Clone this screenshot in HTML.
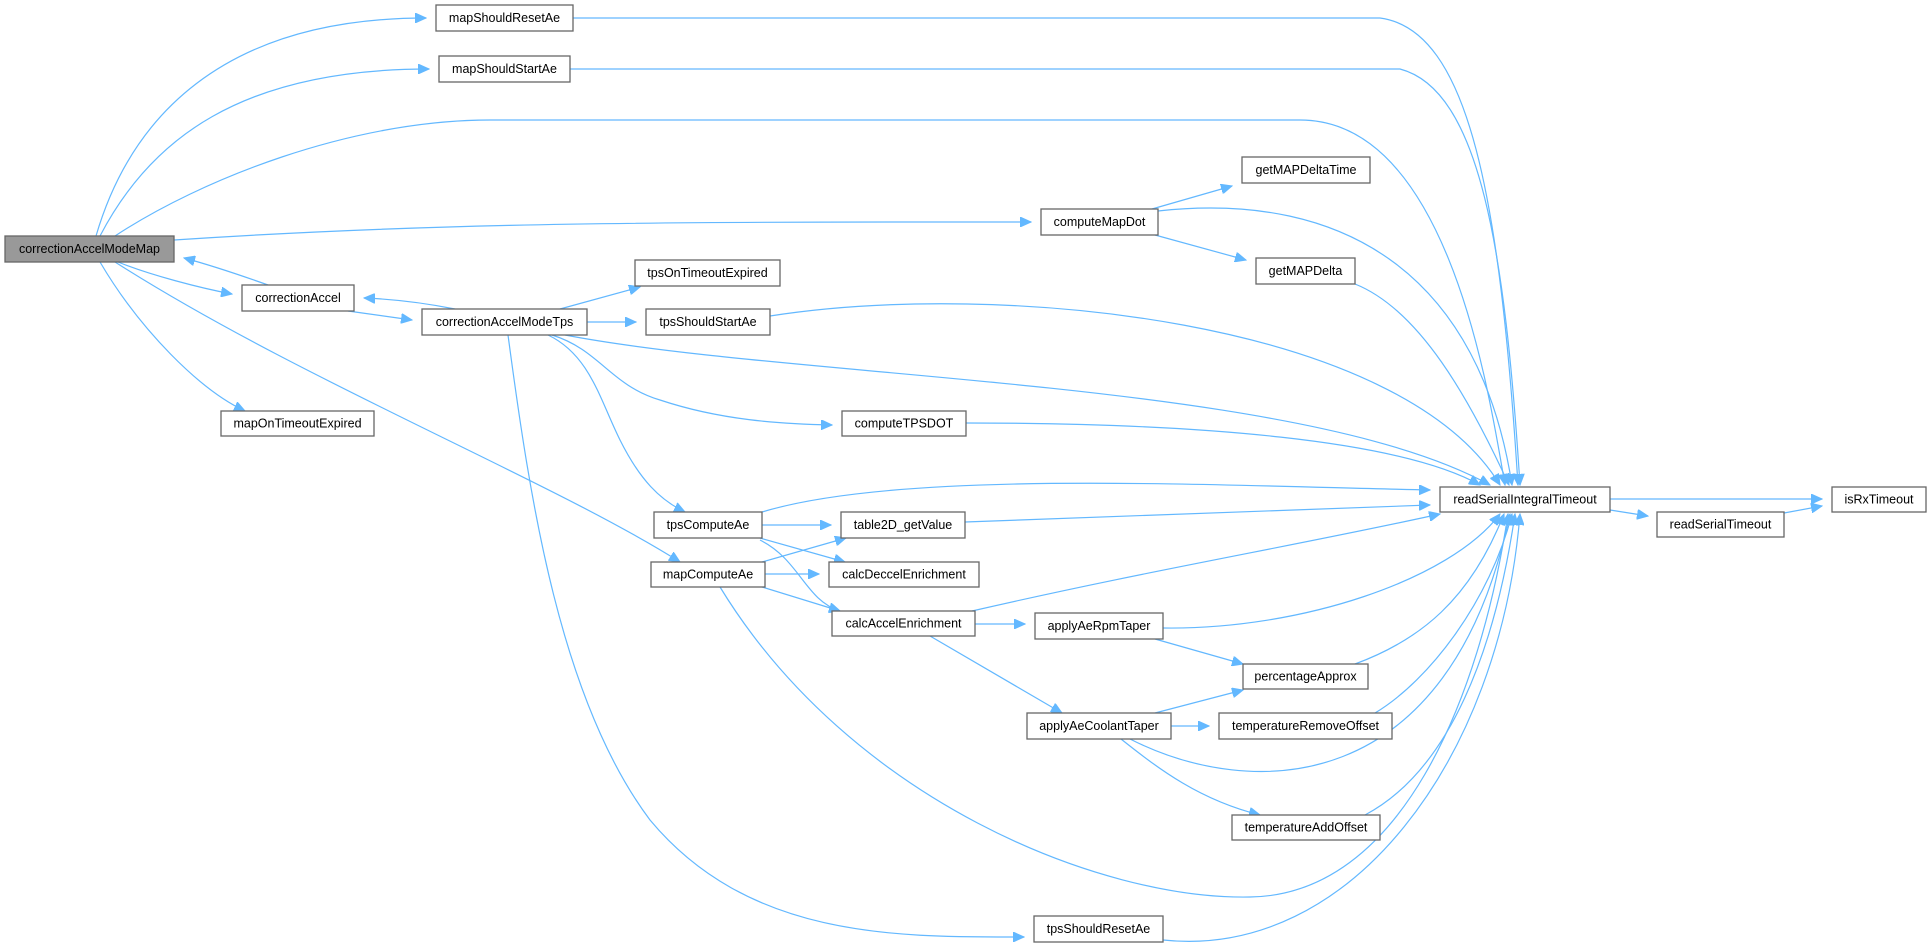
<!DOCTYPE html>
<html><head><meta charset="utf-8"><style>
html,body{margin:0;padding:0;background:#fff;}
svg{display:block;}
text{font-family:"Liberation Sans",Arial,sans-serif;font-size:12.5px;fill:#000;text-anchor:middle;dominant-baseline:central;}
rect{fill:#fff;stroke:#666;stroke-width:1.3;}
path{fill:none;stroke:#63b8ff;stroke-width:1.2;}
</style></head><body>
<svg width="1931" height="950" viewBox="0 0 1931 950" xmlns="http://www.w3.org/2000/svg">
<defs><marker id="a" markerUnits="userSpaceOnUse" markerWidth="12" markerHeight="10" refX="11" refY="5" orient="auto"><path d="M0,0 L11,5 L0,10 Z" style="fill:#63b8ff;stroke:#63b8ff;stroke-width:1"/></marker></defs>
<g marker-end="url(#a)">
<path d="M96,236 C130,120 220,18 426,18"/>
<path d="M100,236 C150,140 240,69 429,69"/>
<path d="M115,236 C200,180 350,120 490,120 L1300,120 C1450,120 1490,400 1505,485"/>
<path d="M174,240 C400,225 600,222 900,222 L1031,222"/>
<path d="M118,262 C150,275 200,288 232,294"/>
<path d="M268,285 C240,275 210,265 184,258"/>
<path d="M100,262 C140,330 200,390 245,411"/>
<path d="M115,262 C300,380 550,480 680,562"/>
<path d="M348,311 L412,320"/>
<path d="M455,309 C420,302 390,299 364,298"/>
<path d="M560,309 L640,287"/>
<path d="M587,322 L636,322"/>
<path d="M565,335 C800,380 1300,380 1490,485"/>
<path d="M552,335 C600,350 610,385 660,400 C720,420 780,424 832,425"/>
<path d="M548,335 C590,355 600,400 620,440 C640,480 660,500 685,512"/>
<path d="M508,335 C530,500 560,700 650,820 C750,940 900,937 1024,937"/>
<path d="M770,316 C1000,280 1400,320 1500,485"/>
<path d="M966,423 C1200,423 1400,440 1480,485"/>
<path d="M1152,209 L1232,186"/>
<path d="M1155,235 L1246,260"/>
<path d="M1158,211 C1350,190 1480,280 1512,485"/>
<path d="M1355,284 C1420,310 1470,400 1509,485"/>
<path d="M573,18 L1380,18 C1470,30 1500,200 1518,485"/>
<path d="M570,69 L1400,69 C1480,90 1505,250 1520,485"/>
<path d="M762,525 L831,525"/>
<path d="M760,538 L845,562"/>
<path d="M760,540 C800,560 805,600 840,611"/>
<path d="M762,512 C900,470 1200,485 1430,490"/>
<path d="M762,562 L846,538"/>
<path d="M765,574 L819,574"/>
<path d="M762,587 L840,611"/>
<path d="M720,587 C850,800 1100,900 1250,897 C1400,895 1480,700 1508,514"/>
<path d="M965,522 L1430,505"/>
<path d="M972,611 C1150,570 1300,545 1440,514"/>
<path d="M975,624 L1025,624"/>
<path d="M930,636 L1062,713"/>
<path d="M1163,628 C1300,630 1450,580 1500,514"/>
<path d="M1155,639 L1243,664"/>
<path d="M1355,664 C1420,640 1470,600 1504,514"/>
<path d="M1155,713 L1243,690"/>
<path d="M1171,726 L1209,726"/>
<path d="M1130,739 C1250,800 1450,800 1510,514"/>
<path d="M1121,739 C1160,770 1200,800 1260,815"/>
<path d="M1375,713 C1430,680 1490,600 1512,514"/>
<path d="M1365,815 C1450,770 1495,650 1515,514"/>
<path d="M1163,940 C1350,960 1500,760 1520,514"/>
<path d="M1610,499 L1822,499"/>
<path d="M1610,510 L1648,516"/>
<path d="M1784,513 L1822,506"/>
</g>
<rect x="5" y="236" width="169" height="26" style="fill:#999"/><text x="89.5" y="249">correctionAccelModeMap</text>
<rect x="436" y="5" width="137" height="26"/><text x="504.5" y="18">mapShouldResetAe</text>
<rect x="439" y="56" width="131" height="26"/><text x="504.5" y="69">mapShouldStartAe</text>
<rect x="242" y="285" width="112" height="26"/><text x="298" y="298">correctionAccel</text>
<rect x="422" y="309" width="165" height="26"/><text x="504.5" y="322">correctionAccelModeTps</text>
<rect x="221" y="411" width="153" height="25"/><text x="297.5" y="423.5">mapOnTimeoutExpired</text>
<rect x="635" y="260" width="145" height="26"/><text x="707.5" y="273">tpsOnTimeoutExpired</text>
<rect x="646" y="309" width="124" height="26"/><text x="708" y="322">tpsShouldStartAe</text>
<rect x="1041" y="209" width="117" height="26"/><text x="1099.5" y="222">computeMapDot</text>
<rect x="1242" y="157" width="128" height="26"/><text x="1306" y="170">getMAPDeltaTime</text>
<rect x="1256" y="258" width="99" height="26"/><text x="1305.5" y="271">getMAPDelta</text>
<rect x="842" y="411" width="124" height="25"/><text x="904" y="423.5">computeTPSDOT</text>
<rect x="654" y="512" width="108" height="26"/><text x="708" y="525">tpsComputeAe</text>
<rect x="841" y="512" width="124" height="26"/><text x="903" y="525">table2D_getValue</text>
<rect x="651" y="562" width="114" height="25"/><text x="708" y="574.5">mapComputeAe</text>
<rect x="829" y="562" width="150" height="25"/><text x="904" y="574.5">calcDeccelEnrichment</text>
<rect x="832" y="611" width="143" height="25"/><text x="903.5" y="623.5">calcAccelEnrichment</text>
<rect x="1035" y="613" width="128" height="26"/><text x="1099" y="626">applyAeRpmTaper</text>
<rect x="1243" y="664" width="125" height="25"/><text x="1305.5" y="676.5">percentageApprox</text>
<rect x="1027" y="713" width="144" height="26"/><text x="1099" y="726">applyAeCoolantTaper</text>
<rect x="1219" y="713" width="173" height="26"/><text x="1305.5" y="726">temperatureRemoveOffset</text>
<rect x="1232" y="815" width="148" height="25"/><text x="1306" y="827.5">temperatureAddOffset</text>
<rect x="1034" y="916" width="129" height="26"/><text x="1098.5" y="929">tpsShouldResetAe</text>
<rect x="1440" y="487" width="170" height="25"/><text x="1525" y="499.5">readSerialIntegralTimeout</text>
<rect x="1657" y="512" width="127" height="25"/><text x="1720.5" y="524.5">readSerialTimeout</text>
<rect x="1832" y="487" width="94" height="25"/><text x="1879" y="499.5">isRxTimeout</text>
</svg>
</body></html>
